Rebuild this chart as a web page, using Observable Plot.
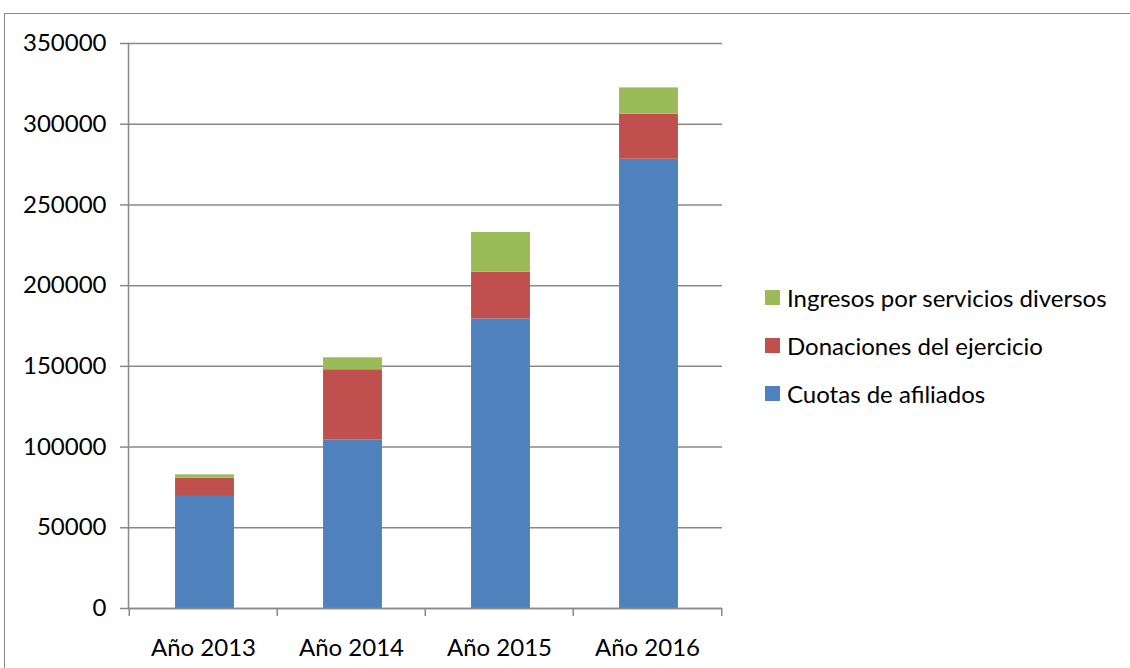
<!DOCTYPE html>
<html>
<head>
<meta charset="utf-8">
<script src="https://cdn.jsdelivr.net/npm/d3@7"></script>
<script src="https://cdn.jsdelivr.net/npm/@observablehq/plot@0.6"></script>
<style>
  html, body { margin: 0; padding: 0; background: #fff; }
  #wrap { position: relative; width: 1130px; height: 668px; overflow: hidden; font-family: Lato, "Open Sans", sans-serif; }
  #border { position: absolute; left: 4px; top: 13px; width: 1140px; height: 700px; border-top: 1.5px solid #898989; border-left: 1.5px solid #898989; box-sizing: border-box; }
  #chart { position: absolute; left: 0; top: 0; }
  #legend { position: absolute; left: 765px; top: 273px; font-size: 24px; color: #000; }
  .item { display: flex; align-items: center; height: 48px; }
  .sw { width: 15px; height: 15px; margin-right: 7px; flex: none; }
</style>
</head>
<body>
<div id="wrap">
  <div id="border"></div>
  <div id="chart"></div>
  <div id="legend"></div>
</div>
<script>
const years = ["Año 2013", "Año 2014", "Año 2015", "Año 2016"];
const series = ["Cuotas de afiliados", "Donaciones del ejercicio", "Ingresos por servicios diversos"];
const cuotas = [69400, 104500, 179400, 278300];
const donaciones = [11300, 43400, 28900, 27900];
const ingresos = [2100, 7400, 24600, 16300];
const colors = ["#4F81BD", "#C0504D", "#9BBB59"];
const yTicks = [0, 50000, 100000, 150000, 200000, 250000, 300000, 350000];

const rows = years.flatMap((y, i) => [
  {year: y, serie: series[0], value: cuotas[i]},
  {year: y, serie: series[1], value: donaciones[i]},
  {year: y, serie: series[2], value: ingresos[i]}
]);

const W = 1130, H = 668, ML = 128, MR = 408, MT = 43, MB = 60;
const bw = (W - ML - MR) / years.length;
const grey = "#898989";

const chart = Plot.plot({
  width: W, height: H,
  marginLeft: ML, marginRight: MR, marginTop: MT, marginBottom: MB,
  style: {fontFamily: "Lato, 'Open Sans', sans-serif", fontSize: "24px", color: "#000", background: "transparent"},
  x: {domain: years, padding: 0, label: null},
  y: {domain: [0, 350000], label: null},
  color: {domain: series, range: colors},
  marks: [
    Plot.gridY(yTicks, {stroke: grey, strokeOpacity: 1, strokeWidth: 1.5}),
    Plot.axisY(yTicks, {tickSize: 8, tickPadding: 14, tickFormat: d => String(d), stroke: grey, fill: "#000", strokeWidth: 1.5, fontSize: 24, label: null}),
    Plot.barY(rows, {x: "year", y: "value", fill: "serie", order: series, insetLeft: bw * 0.3 + 1.5, insetRight: bw * 0.3 - 1.5}),
    Plot.frame({anchor: "left", stroke: grey, strokeWidth: 1.5}),
    Plot.ruleY([0], {stroke: grey, strokeWidth: 1.5}),
    Plot.axisX({tickSize: 0, tickPadding: 30, fill: "#000", fontSize: 24, label: null}),
    Plot.axisX({tickSize: 8, dx: -bw / 2, tickFormat: () => "", stroke: grey, strokeWidth: 1.5, label: null}),
    Plot.axisX([years[years.length - 1]], {tickSize: 8, dx: bw / 2, tickFormat: () => "", stroke: grey, strokeWidth: 1.5, label: null})
  ]
});
document.getElementById("chart").appendChild(chart);

const legend = document.getElementById("legend");
[2, 1, 0].forEach(i => {
  const d = document.createElement("div");
  d.className = "item";
  const s = document.createElement("span");
  s.className = "sw";
  s.style.background = colors[i];
  const t = document.createElement("span");
  t.textContent = series[i];
  d.appendChild(s); d.appendChild(t);
  legend.appendChild(d);
});
</script>
</body>
</html>
